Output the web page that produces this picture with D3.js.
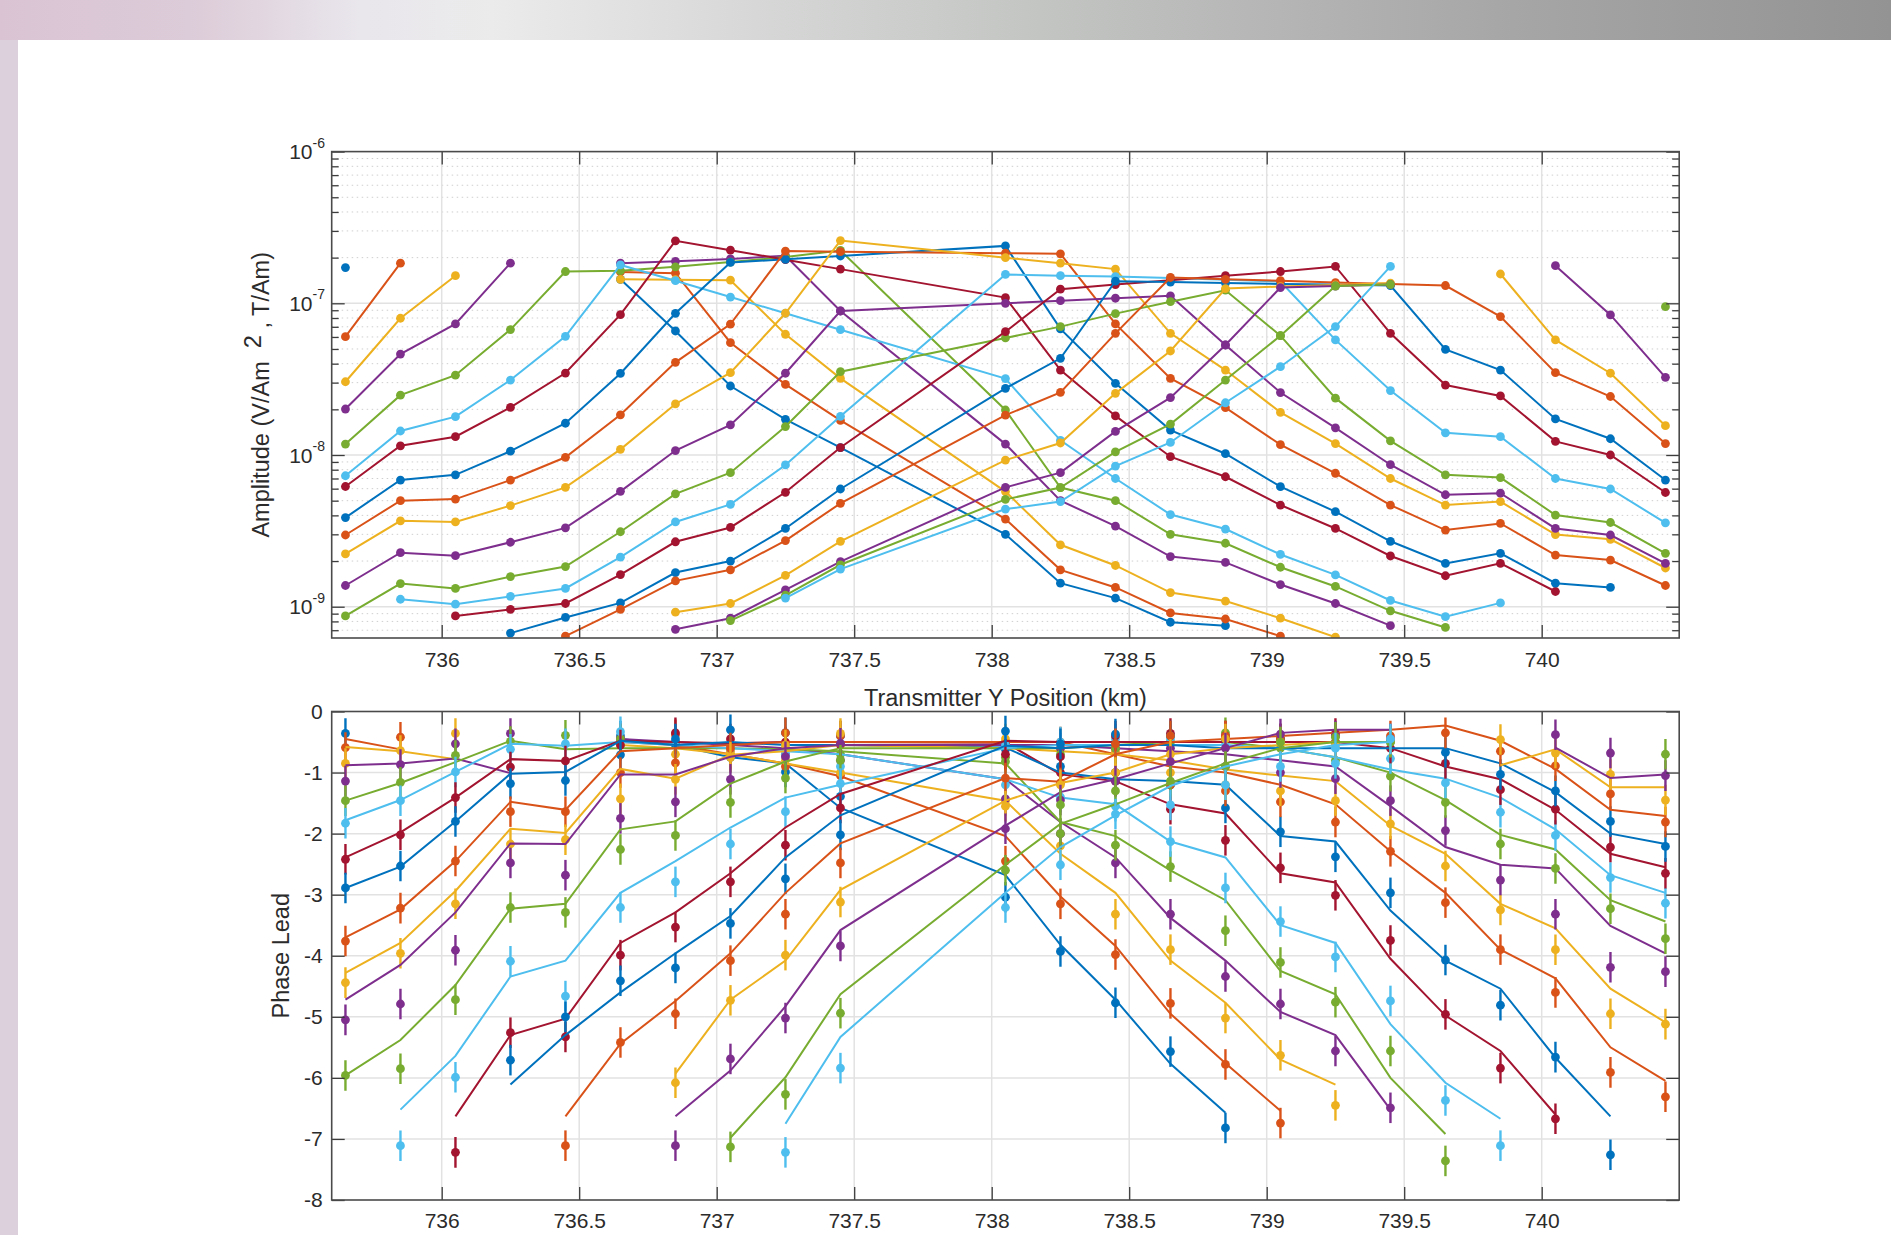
<!DOCTYPE html>
<html>
<head>
<meta charset="utf-8">
<script src="https://cdn.jsdelivr.net/npm/d3@7"></script>
<style>
  body { margin: 0; background: #fff; }
  svg text { font-family: "Liberation Sans", Arial, sans-serif; fill: #2b2b2b; }
  .axis .domain { display: none; }
  .axis line { stroke: #3c3c3c; stroke-width: 1.3; }
  .axis text { font-size: 21px; fill: #2b2b2b; }
</style>
</head>
<body>
<svg id="fig" width="1891" height="1235"></svg>
<script>
const _ = null;

// transmitter Y positions (km)
const positions = [735.65, 735.85, 736.05, 736.25, 736.45, 736.65, 736.85, 737.05, 737.25, 737.45,
  738.05, 738.25, 738.45, 738.65, 738.85, 739.05, 739.25, 739.45, 739.65, 739.85, 740.05, 740.25, 740.45];

// amplitude per receiver, in units of 1e-9 (V/Am^2, T/Am)
const AMP_UNIT = 1e-9;
const amplitude = [
  [172, _, _, _, _, 144, 65.7, 28.5, 17.2, 11.2, 3.0, 1.43, 1.14, 0.79, 0.75, _, _, _, _, _, _, _, _],
  [60.3, 184, _, _, _, 161, 158, 55, 29.2, 16.9, 3.78, 1.75, 1.34, 0.91, 0.83, 0.64, _, _, _, _, _, _, _],
  [30.4, 79.7, 152, _, _, 144, 143, 142, 62.5, 32.0, 5.74, 2.56, 1.87, 1.24, 1.09, 0.84, 0.63, _, _, _, _, _, _],
  [20.1, 46.3, 73.1, 184, _, 184, 189, 196, 206, 89.0, 11.8, 5.0, 3.40, 2.14, 1.96, 1.40, 1.05, 0.75, _, _, _, _, _],
  [11.8, 24.8, 33.6, 67.1, 162, 164, 174, 187, 202, 223, 19.8, 6.1, 5.0, 3.0, 2.62, 1.82, 1.36, 0.94, 0.73, _, _, _, _],
  [7.3, 14.4, 17.9, 31.2, 60.6, 179, 141, 110, 86, 67, 31.9, 12.5, 7.0, 4.05, 3.25, 2.21, 1.62, 1.1, 0.86, 1.06, _, _, _],
  [6.2, 11.5, 13.2, 20.6, 34.7, 84.2, 258, 224, 194, 168, 109, 36.3, 18.1, 9.75, 7.19, 4.68, 3.28, 2.16, 1.6, 1.93, 1.26, _, _],
  [3.87, 6.84, 7.4, 10.6, 16.2, 34.5, 85.9, 186, 195, 205, 239, 67.8, 29.7, 14.6, 10.2, 6.18, 4.23, 2.70, 1.93, 2.25, 1.43, 1.34, _],
  [2.97, 5.0, 5.12, 6.84, 9.66, 18.4, 40.8, 72.9, 221, 219, 214, 212, 73.1, 32.0, 20.5, 11.7, 7.58, 4.68, 3.2, 3.54, 2.19, 2.03, 1.38],
  [2.23, 3.68, 3.62, 4.64, 6.12, 10.9, 21.7, 34.9, 86, 259, 200, 184, 168, 63.4, 36.3, 19.1, 11.9, 7.0, 4.68, 4.93, 2.99, 2.78, 1.80],
  [1.38, 2.27, 2.17, 2.66, 3.31, 5.76, 10.7, 15.8, 34.6, 89, 100, 104, 108, 112, 53.1, 25.8, 15.1, 8.63, 5.47, 5.6, 3.28, 2.97, 1.93],
  [0.87, 1.42, 1.32, 1.58, 1.84, 3.12, 5.55, 7.65, 15.4, 35.4, 59.1, 70.2, 85.5, 102.5, 122, 61.2, 23.7, 12.4, 7.4, 7.1, 4.02, 3.59, 2.25],
  [_, 1.12, 1.04, 1.17, 1.32, 2.12, 3.62, 4.73, 8.6, 18.0, 155, 152, 150, 147, 143, 139, 57.4, 26.6, 14.0, 13.2, 7.0, 5.97, 3.57],
  [_, _, 0.87, 0.96, 1.05, 1.63, 2.68, 3.33, 5.68, 11.2, 65, 124, 133, 142, 152, 162, 175, 63.4, 28.9, 24.5, 12.3, 10.0, 5.66],
  [_, _, _, 0.67, 0.85, 1.06, 1.68, 2.0, 3.28, 5.97, 27.5, 43.4, 140, 138, 136, 134, 133, 131, 49.7, 36.3, 17.3, 12.8, 6.84],
  [_, _, _, _, 0.64, 0.96, 1.48, 1.75, 2.73, 4.8, 18.3, 25.9, 63.4, 148, 144, 141, 137, 134, 131, 81.7, 34.9, 24.3, 11.9],
  [_, _, _, _, _, _, 0.92, 1.05, 1.61, 2.7, 9.26, 12.0, 25.5, 48.5, 125, 129, 132, 136, _, 156, 57.4, 34.6, 15.6],
  [_, _, _, _, _, _, 0.71, 0.84, 1.29, 1.98, 6.12, 7.65, 14.3, 23.9, 53.1, 127, 130, 133, _, _, 177, 83.8, 32.5],
  [_, _, _, _, _, _, _, 0.81, 1.19, 1.89, 5.1, 6.1, 10.5, 16.0, 31.2, 61.2, 130, 133, _, _, _, _, 95],
  [_, _, _, _, _, _, _, _, 1.14, 1.77, 4.4, 4.93, 8.45, 12.1, 22.1, 38.2, 70.2, 175, _, _, _, _, _]
];

// measured phase lead (points with error bars)
const phaseErr = 0.25;
const phaseData = [
  [-0.36, _, _, _, _, -0.40, -0.55, -0.75, -0.99, -1.39, -3.04, -3.93, -4.77, -5.57, -6.82, _, _, _, _, _, _, _, _],
  [-0.59, -0.42, _, _, _, -0.45, -0.38, -0.70, -0.90, -1.05, -2.45, -3.15, -3.98, -4.78, -5.78, -6.74, _, _, _, _, _, _, _],
  [-0.85, -0.64, -0.36, _, _, -0.55, -0.70, -0.65, -0.80, -1.00, -1.46, -2.20, -3.32, -3.90, -5.02, -5.63, -6.45, _, _, _, _, _, _],
  [-1.14, -0.87, -0.53, -0.36, _, -0.45, -0.50, -0.60, -0.70, -0.80, -1.43, -2.00, -2.48, -3.32, -4.34, -4.79, -5.56, -6.49, _, _, _, _, _],
  [-1.46, -1.16, -0.72, -0.49, -0.39, -0.45, -0.50, -0.55, -0.60, -0.70, -0.82, -2.00, -2.19, -2.54, -3.59, -4.11, -4.76, -5.56, -7.36, _, _, _, _],
  [-1.83, -1.46, -0.99, -0.62, -0.53, -0.33, -0.50, -0.60, -0.70, -0.90, -1.20, -1.40, -1.55, -2.13, -2.89, -3.44, -4.02, -4.74, -6.37, -7.11, _, _, _],
  [-2.42, -2.02, -1.41, -0.91, -0.81, -0.55, -0.35, -0.45, -0.50, -0.55, -0.52, -1.00, -1.14, -1.60, -2.11, -2.56, -3.01, -3.75, -4.96, -5.84, -6.67, _, _],
  [-2.89, -2.53, -1.80, -1.18, -1.13, -0.71, -0.45, -0.30, -0.35, -0.40, -0.62, -0.90, -1.00, -1.20, -1.58, -1.97, -2.38, -2.97, -4.07, -4.81, -5.66, -7.26, _],
  [-3.76, -3.22, -2.45, -1.64, -1.64, -1.00, -0.84, -0.60, -0.35, -0.40, -0.50, -0.50, -1.00, -1.20, -1.30, -1.48, -1.81, -2.29, -3.13, -3.90, -4.60, -5.91, -6.31],
  [-4.44, -3.96, -3.15, -2.17, -2.10, -1.43, -1.11, -0.75, -0.55, -0.36, -0.45, -0.60, -0.65, -1.00, -1.20, -1.30, -1.46, -1.84, -2.53, -3.25, -3.90, -4.95, -5.12],
  [-5.05, -4.79, -3.91, -2.48, -2.68, -1.75, -1.48, -1.11, -0.74, -0.52, -0.55, -0.60, -0.60, -0.60, -0.90, -1.00, -1.10, -1.46, -1.95, -2.76, -3.32, -4.19, -4.26],
  [-5.96, -5.85, -4.72, -3.21, -3.29, -2.26, -2.03, -1.49, -1.09, -0.80, -0.75, -0.70, -0.60, -0.50, -0.35, -0.60, -0.80, -1.06, -1.49, -2.17, -2.57, -3.23, -3.72],
  [_, -7.11, -5.99, -4.09, -4.66, -3.21, -2.79, -2.17, -1.64, -1.18, -0.55, -0.50, -0.45, -0.45, -0.50, -0.50, -0.85, -0.77, -1.17, -1.65, -2.03, -2.72, -3.14],
  [_, _, -7.22, -5.26, -5.33, -3.99, -3.53, -2.79, -2.19, -1.58, -0.70, -0.74, -0.40, -0.36, -0.40, -0.45, -0.36, -0.60, -0.85, -1.28, -1.60, -2.22, -2.65],
  [_, _, _, -5.71, -5.00, -4.41, -4.20, -3.47, -2.74, -2.02, -0.32, -0.53, -0.37, -0.40, -0.45, -0.45, -0.50, -0.50, -0.67, -1.03, -1.30, -1.80, -2.21],
  [_, _, _, _, -7.11, -5.42, -4.95, -4.08, -3.32, -2.48, -1.09, -1.17, -0.53, -0.40, -0.40, -0.45, -0.50, -0.40, -0.35, -0.65, -0.89, -1.35, -1.81],
  [_, _, _, _, _, _, -6.08, -4.73, -3.99, -3.12, -1.55, -1.20, -1.00, -0.70, -0.45, -0.50, -0.55, -0.50, _, -0.46, -0.68, -1.03, -1.45],
  [_, _, _, _, _, _, -7.11, -5.69, -5.02, -3.84, -1.92, -1.45, -1.14, -0.82, -0.60, -0.37, -0.40, -0.45, _, _, -0.38, -0.68, -1.05],
  [_, _, _, _, _, _, _, -7.13, -6.27, -4.94, -2.60, -1.53, -1.30, -1.14, -0.90, -0.50, -0.42, -0.50, _, _, _, _, -0.70],
  [_, _, _, _, _, _, _, _, -7.22, -5.84, -3.21, -2.51, -1.68, -1.53, -1.20, -0.90, -0.60, -0.45, _, _, _, _, _]
];

// modelled phase lead (lines)
const phaseModel = [
  [_, _, _, _, _, -0.45, -0.55, -0.75, -0.85, -1.58, -2.68, -3.82, -4.72, -5.77, -6.57, _, _, _, _, _, _, _, _],
  [-0.45, -0.62, _, _, _, -0.50, -0.55, -0.70, -0.85, -1.06, -2.04, -3.03, -3.84, -4.95, -5.76, -6.54, _, _, _, _, _, _, _],
  [-0.58, -0.65, -0.78, _, _, -0.55, -0.60, -0.70, -0.85, -1.00, -1.46, -2.33, -2.97, -4.08, -4.77, -5.70, -6.11, _, _, _, _, _, _],
  [-0.88, -0.85, -0.77, -1.01, _, -0.45, -0.50, -0.55, -0.60, -0.70, -1.11, -1.81, -2.39, -3.38, -4.08, -4.92, -5.30, -6.52, _, _, _, _, _],
  [-1.46, -1.17, -0.83, -0.48, -0.62, -0.60, -0.60, -0.60, -0.62, -0.65, -0.85, -1.81, -2.04, -2.60, -3.09, -4.25, -4.63, -6.00, -6.92, _, _, _, _],
  [-1.78, -1.45, -0.99, -0.53, -0.56, -0.50, -0.55, -0.60, -0.65, -0.70, -1.11, -1.41, -1.52, -2.13, -2.39, -3.50, -3.79, -5.12, -6.08, -6.67, _, _, _],
  [-2.39, -1.98, -1.41, -0.78, -0.81, -0.48, -0.50, -0.52, -0.50, -0.50, -0.51, -1.03, -1.14, -1.52, -1.67, -2.65, -2.80, -4.05, -4.98, -5.56, -6.60, _, _],
  [-2.89, -2.54, -1.80, -1.02, -0.99, -0.48, -0.55, -0.50, -0.55, -0.55, -0.59, -1.00, -1.11, -1.14, -1.20, -2.04, -2.13, -3.26, -4.08, -4.54, -5.67, -6.63, _],
  [-3.70, -3.24, -2.45, -1.48, -1.61, -0.65, -0.60, -0.55, -0.50, -0.50, -0.50, -0.50, -0.70, -0.90, -1.00, -1.20, -1.52, -2.29, -2.97, -3.90, -4.37, -5.50, -6.05],
  [-4.28, -3.79, -2.94, -1.92, -1.99, -0.94, -1.10, -0.71, -0.65, -0.55, -0.60, -0.65, -0.70, -0.80, -0.95, -1.05, -1.14, -1.87, -2.33, -3.15, -3.55, -4.54, -5.09],
  [-4.72, -4.15, -3.29, -2.16, -2.17, -1.03, -1.03, -0.74, -0.60, -0.55, -0.55, -0.55, -0.60, -0.65, -0.70, -0.80, -0.90, -1.55, -2.22, -2.51, -2.57, -3.51, -3.96],
  [-5.96, -5.38, -4.48, -3.23, -3.15, -1.93, -1.80, -1.18, -0.82, -0.60, -0.60, -0.60, -0.55, -0.50, -0.50, -0.60, -0.75, -1.00, -1.45, -2.02, -2.26, -3.09, -3.44],
  [_, -6.52, -5.64, -4.34, -4.08, -2.97, -2.45, -1.90, -1.41, -1.20, -0.60, -0.55, -0.55, -0.55, -0.55, -0.60, -0.75, -0.95, -1.10, -1.41, -1.93, -2.68, -2.97],
  [_, _, -6.63, -5.30, -5.03, -3.79, -3.29, -2.65, -1.90, -1.35, -0.48, -0.50, -0.50, -0.50, -0.50, -0.50, -0.50, -0.60, -0.90, -1.11, -1.61, -2.33, -2.55],
  [_, _, _, -6.11, -5.30, -4.60, -3.96, -3.35, -2.39, -1.70, -0.56, -0.60, -0.55, -0.55, -0.60, -0.60, -0.60, -0.60, -0.60, -0.85, -1.32, -2.00, -2.17],
  [_, _, _, _, -6.63, -5.44, -4.74, -3.96, -2.97, -2.16, -1.09, -1.15, -0.70, -0.50, -0.45, -0.40, -0.35, -0.30, -0.23, -0.48, -0.94, -1.61, -1.71],
  [_, _, _, _, _, _, -5.93, -4.72, -4.08, -2.92, -1.46, -1.17, -1.00, -0.70, -0.60, -0.55, -0.50, -0.50, _, -0.88, -0.62, -1.24, -1.24],
  [_, _, _, _, _, _, -6.63, -5.88, -4.83, -3.58, -1.87, -1.32, -1.11, -0.85, -0.60, -0.35, -0.30, -0.30, _, _, -0.59, -1.09, -1.03],
  [_, _, _, _, _, _, _, -6.98, -5.99, -4.63, -2.51, -1.84, -1.52, -1.17, -0.85, -0.60, -0.50, -0.50, _, _, _, _, _],
  [_, _, _, _, _, _, _, _, -6.75, -5.33, -2.97, -2.22, -1.70, -1.22, -0.90, -0.70, -0.55, -0.50, _, _, _, _, _]
];

const xTicks = [736, 736.5, 737, 737.5, 738, 738.5, 739, 739.5, 740];
const ampTicks = [1e-9, 1e-8, 1e-7, 1e-6];
const phaseTicks = [0, -1, -2, -3, -4, -5, -6, -7, -8];

// MATLAB default colour order
const colors = ["#0072BD", "#D95319", "#EDB120", "#7E2F8E", "#77AC30", "#4DBEEE", "#A2142F"];

const svg = d3.select("#fig");
const defs = svg.append("defs");

// page decoration: gradient band on top, tinted strip at the left edge
const band = defs.append("linearGradient").attr("id", "band");
[["0%", "#dac4d4"], ["10%", "#dccbd8"], ["19%", "#e9e6ec"], ["26%", "#ebebeb"], ["40%", "#d6d7d6"],
 ["55%", "#c3c5c3"], ["66%", "#b6b7b6"], ["80%", "#a6a6a6"], ["100%", "#939393"]]
  .forEach(s => band.append("stop").attr("offset", s[0]).attr("stop-color", s[1]));
svg.append("rect").attr("x", 0).attr("y", 0).attr("width", 1891).attr("height", 40).attr("fill", "url(#band)");
svg.append("rect").attr("x", 0).attr("y", 40).attr("width", 18).attr("height", 1195).attr("fill", "#ddd0dd");

const left = 331.7, right = 1679.2;
const topBox = { t: 151.6, b: 638 };
const botBox = { t: 711.5, b: 1200 };

const x = d3.scaleLinear().domain([735.6, 740.5]).range([left, right]);
const yAmp = d3.scaleLog().domain([6.22e-10, 1e-6]).range([topBox.b, topBox.t]);
const yPh = d3.scaleLinear().domain([-8, 0]).range([botBox.b, botBox.t]);
const xFmt = d3.format("~g");

["clipTop", "clipBot"].forEach((id, k) => {
  const b = k === 0 ? topBox : botBox;
  defs.append("clipPath").attr("id", id).append("rect")
    .attr("x", left).attr("y", b.t).attr("width", right - left).attr("height", b.b - b.t);
});

// ---------- top panel: amplitude ----------
const gTop = svg.append("g");
const logTicks = yAmp.ticks();
const minorAmp = logTicks.filter(v => Math.abs(Math.log10(v) - Math.round(Math.log10(v))) > 1e-6);

gTop.selectAll(".minor").data(minorAmp).join("line")
  .attr("x1", left).attr("x2", right).attr("y1", d => yAmp(d)).attr("y2", d => yAmp(d))
  .attr("stroke", "#cfcfcf").attr("stroke-width", 1).attr("stroke-dasharray", "1.5,3.5");
gTop.selectAll(".major").data(ampTicks.slice(0, 3)).join("line")
  .attr("x1", left).attr("x2", right).attr("y1", d => yAmp(d)).attr("y2", d => yAmp(d))
  .attr("stroke", "#e2e2e2").attr("stroke-width", 1.5);
gTop.selectAll(".vgrid").data(xTicks).join("line")
  .attr("x1", d => x(d)).attr("x2", d => x(d)).attr("y1", topBox.t).attr("y2", topBox.b)
  .attr("stroke", "#e2e2e2").attr("stroke-width", 1.5);

const ampLine = d3.line().defined(d => d.v != null)
  .x(d => x(d.p)).y(d => yAmp(d.v * AMP_UNIT));

const dataTop = gTop.append("g").attr("clip-path", "url(#clipTop)");
amplitude.forEach((vals, i) => {
  const c = colors[i % 7];
  const pts = positions.map((p, j) => ({ p, v: vals[j] }));
  dataTop.append("path").datum(pts).attr("d", ampLine)
    .attr("fill", "none").attr("stroke", c).attr("stroke-width", 2);
  dataTop.append("g").selectAll("circle").data(pts.filter(d => d.v != null)).join("circle")
    .attr("cx", d => x(d.p)).attr("cy", d => yAmp(d.v * AMP_UNIT)).attr("r", 4.4).attr("fill", c);
});

// axes of top panel
gTop.append("g").attr("class", "axis").attr("transform", `translate(0,${topBox.b})`)
  .call(d3.axisBottom(x).tickValues(xTicks).tickSize(-13).tickSizeOuter(0).tickPadding(14).tickFormat(xFmt));
gTop.append("g").attr("class", "axis").attr("transform", `translate(0,${topBox.t})`)
  .call(d3.axisTop(x).tickValues(xTicks).tickSize(-13).tickSizeOuter(0).tickFormat(""));
[[d3.axisLeft, left], [d3.axisRight, right]].forEach(([ax, xp]) => {
  gTop.append("g").attr("class", "axis").attr("transform", `translate(${xp},0)`)
    .call(ax(yAmp).tickValues(ampTicks).tickSize(-13).tickSizeOuter(0).tickFormat(""));
  gTop.append("g").attr("class", "axis").attr("transform", `translate(${xp},0)`)
    .call(ax(yAmp).tickValues(minorAmp).tickSize(-7).tickSizeOuter(0).tickFormat(""));
});
gTop.selectAll(".ylab").data(ampTicks).join("text")
  .attr("x", 325).attr("y", d => yAmp(d) + 7.5).attr("text-anchor", "end")
  .attr("font-size", 21)
  .each(function (d) {
    const t = d3.select(this);
    t.append("tspan").text("10");
    t.append("tspan").attr("dy", -11.5).attr("font-size", 14).text(Math.round(Math.log10(d)));
  });
gTop.append("rect").attr("x", left).attr("y", topBox.t).attr("width", right - left)
  .attr("height", topBox.b - topBox.t).attr("fill", "none").attr("stroke", "#4a4a4a").attr("stroke-width", 1.6);

const ampLabel = gTop.append("text").attr("transform", `translate(269,${(topBox.t + topBox.b) / 2}) rotate(-90)`)
  .attr("text-anchor", "middle").attr("font-size", 23.5);
ampLabel.append("tspan").text("Amplitude (V/Am");
ampLabel.append("tspan").attr("dy", -8).attr("xml:space", "preserve").text("  2 ");
ampLabel.append("tspan").attr("dy", 8).text(", T/Am)");

// ---------- bottom panel: phase lead ----------
const gBot = svg.append("g");
gBot.selectAll(".hgrid").data(phaseTicks.slice(1, 8)).join("line")
  .attr("x1", left).attr("x2", right).attr("y1", d => yPh(d)).attr("y2", d => yPh(d))
  .attr("stroke", "#e2e2e2").attr("stroke-width", 1.5);
gBot.selectAll(".vgrid").data(xTicks).join("line")
  .attr("x1", d => x(d)).attr("x2", d => x(d)).attr("y1", botBox.t).attr("y2", botBox.b)
  .attr("stroke", "#e2e2e2").attr("stroke-width", 1.5);

const phLine = d3.line().defined(d => d.v != null).x(d => x(d.p)).y(d => yPh(d.v));
const dataBot = gBot.append("g").attr("clip-path", "url(#clipBot)");
phaseData.forEach((vals, i) => {
  const c = colors[i % 7];
  const pts = positions.map((p, j) => ({ p, v: vals[j] })).filter(d => d.v != null);
  const g = dataBot.append("g");
  g.selectAll("line").data(pts).join("line")
    .attr("x1", d => x(d.p)).attr("x2", d => x(d.p))
    .attr("y1", d => yPh(d.v - phaseErr)).attr("y2", d => yPh(d.v + phaseErr))
    .attr("stroke", c).attr("stroke-width", 2.4);
  g.selectAll("circle").data(pts).join("circle")
    .attr("cx", d => x(d.p)).attr("cy", d => yPh(d.v)).attr("r", 4.4).attr("fill", c);
  const model = positions.map((p, j) => ({ p, v: phaseModel[i][j] }));
  dataBot.append("path").datum(model).attr("d", phLine)
    .attr("fill", "none").attr("stroke", c).attr("stroke-width", 2);
});

gBot.append("g").attr("class", "axis").attr("transform", `translate(0,${botBox.b})`)
  .call(d3.axisBottom(x).tickValues(xTicks).tickSize(-13).tickSizeOuter(0).tickPadding(13).tickFormat(xFmt));
gBot.append("g").attr("class", "axis").attr("transform", `translate(0,${botBox.t})`)
  .call(d3.axisTop(x).tickValues(xTicks).tickSize(-13).tickSizeOuter(0).tickFormat(""));
gBot.append("g").attr("class", "axis").attr("transform", `translate(${left},0)`)
  .call(d3.axisLeft(yPh).tickValues(phaseTicks).tickSize(-13).tickSizeOuter(0).tickPadding(9)
    .tickFormat(d => d === 0 ? "0" : "-" + Math.abs(d)));
gBot.append("g").attr("class", "axis").attr("transform", `translate(${right},0)`)
  .call(d3.axisRight(yPh).tickValues(phaseTicks).tickSize(-13).tickSizeOuter(0).tickFormat(""));
gBot.append("rect").attr("x", left).attr("y", botBox.t).attr("width", right - left)
  .attr("height", botBox.b - botBox.t).attr("fill", "none").attr("stroke", "#4a4a4a").attr("stroke-width", 1.6);

gBot.append("text").attr("transform", `translate(289,${(botBox.t + botBox.b) / 2}) rotate(-90)`)
  .attr("text-anchor", "middle").attr("font-size", 23.5).text("Phase Lead");

svg.append("text").attr("x", (left + right) / 2).attr("y", 705.5).attr("text-anchor", "middle")
  .attr("font-size", 23.5).text("Transmitter Y Position (km)");
</script>
</body>
</html>
